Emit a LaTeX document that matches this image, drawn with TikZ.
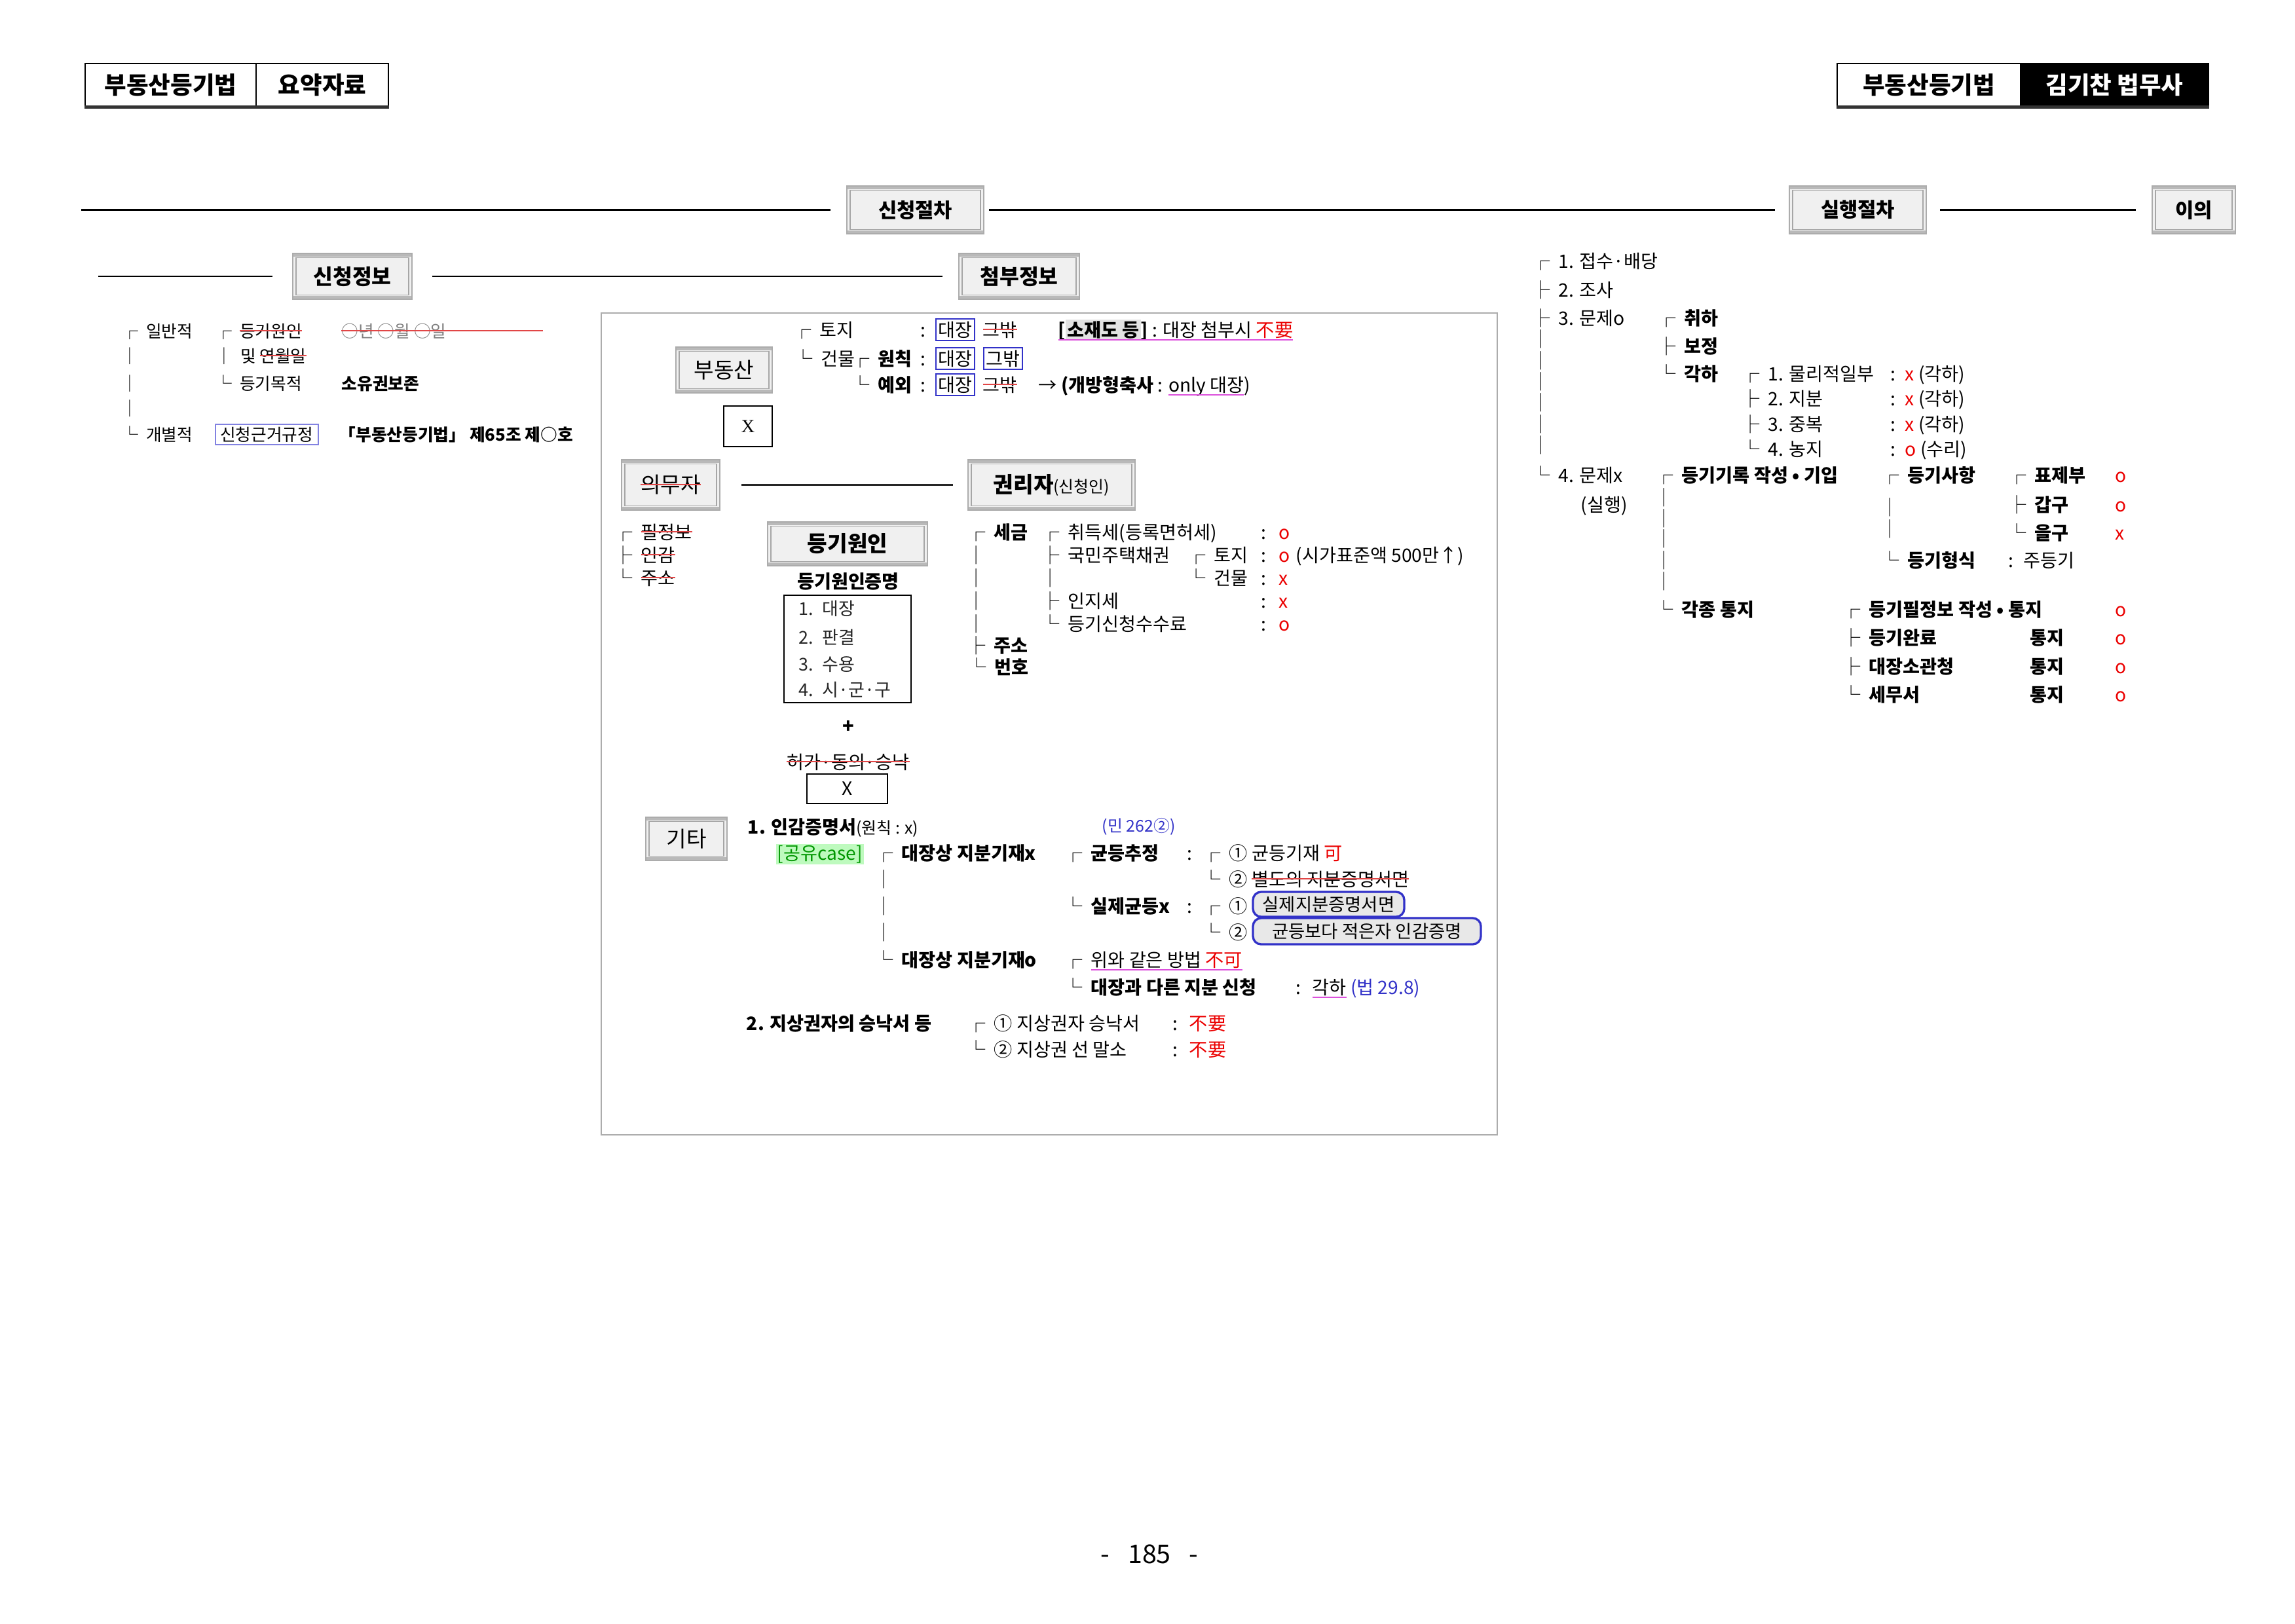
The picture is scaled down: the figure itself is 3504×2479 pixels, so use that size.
\documentclass[tikz,border=0pt]{standalone}
\usepackage{fontspec}
\setmainfont{Noto Sans CJK KR}
\newfontfamily\serifx{Liberation Serif}
\definecolor{mkred}{RGB}{235,0,0}
\definecolor{mkstrike}{RGB}{225,70,70}
\definecolor{mkpink}{RGB}{220,80,220}
\definecolor{mkblue}{RGB}{50,50,200}
\definecolor{mkblueli}{RGB}{130,130,225}
\definecolor{mkgreen}{RGB}{0,150,0}
\definecolor{mkgreenbg}{RGB}{190,250,190}
\newsavebox\mkbox
\newcommand\strk[1]{\sbox\mkbox{#1}\usebox\mkbox\llap{\color{mkstrike}\rule[0.36em]{\wd\mkbox}{0.5pt}}}
\newcommand\ulin[1]{\sbox\mkbox{#1}\usebox\mkbox\llap{\color{mkpink}\rule[-0.22em]{\wd\mkbox}{0.5pt}}}
\newcommand\bxb[1]{{\setlength\fboxsep{0.6pt}\setlength\fboxrule{0.5pt}\fcolorbox{mkblue}{white}{#1}}}
\newcommand\bxl[1]{{\setlength\fboxsep{0.6pt}\setlength\fboxrule{0.5pt}\fcolorbox{mkblueli}{white}{\hspace{0.15em}#1\hspace{0.15em}}}}
\newcommand\brtop{┌\hspace{0.45em}}
\newcommand\brmid{├\hspace{0.45em}}
\newcommand\brbot{└\hspace{0.45em}}
\newcommand\brver{│\hspace{0.45em}}
\tikzset{
  boxsz/.style 2 args={minimum width=#1*0.008476cm, minimum height=#2*0.008476cm},
  lbl/.style={anchor=base west, inner sep=0pt, font=\fontsize{6.8}{8}\selectfont},
  lblsm/.style={lbl, font=\fontsize{6.2}{7}\selectfont},
  lbllist/.style={lbl, font=\fontsize{6.5}{7.5}\selectfont, text=black!85},
  lblred/.style={lbl, text=mkred},
  lblblue/.style={lbl, text=mkblue, font=\fontsize{6}{7}\selectfont},
  hdcell/.style={draw, line width=0.6pt, inner sep=0pt, font=\fontsize{8.8}{10}\selectfont\bfseries},
  tabbox/.style={draw=gray!65, line width=0.4pt, fill=gray!12, inner sep=0pt,
    path picture={
      \fill[gray!55] (path picture bounding box.north west) rectangle ([yshift=-1.1pt]path picture bounding box.north east);
      \fill[gray!55] (path picture bounding box.south west) rectangle ([yshift=1.1pt]path picture bounding box.south east);
      \draw[gray!70, line width=0.3pt] ([xshift=1.2pt,yshift=-1.6pt]path picture bounding box.north west) rectangle ([xshift=-1.2pt,yshift=1.6pt]path picture bounding box.south east);}},
  tabtitle/.style={tabbox, font=\fontsize{7.4}{9}\selectfont\bfseries},
  tabplain/.style={tabbox, font=\fontsize{8}{9}\selectfont},
  plainbox/.style={draw, line width=0.6pt, inner sep=0pt, font=\fontsize{6.8}{8}\selectfont},
  roundbox/.style={draw=mkblue, line width=0.8pt, rounded corners=3pt, fill=gray!18, inner sep=0pt, font=\fontsize{6.6}{8}\selectfont},
  secline/.style={line width=0.5pt},
  strikeln/.style={draw=mkstrike, line width=0.5pt}
}
\begin{document}
\begin{tikzpicture}[x=0.008476cm, y=-0.008476cm]
      \fill[white] (0,0) rectangle (3504,2479);%
      \useasboundingbox (0,0) rectangle (3504,2479);%

      % headers
      \node[hdcell, boxsz={261}{65}] (hdL1) at (260.5,129.5) {부동산등기법};%
      \node[hdcell, boxsz={202}{65}] (hdL2) at (492,129.5) {요약자료};%
      \node[hdcell, boxsz={280}{65}] (hdR1) at (2945,129.5) {부동산등기법};%
      \node[hdcell, fill=black, text=white, boxsz={287}{65}] (hdR2) at (3228.5,129.5) {김기찬\ 법무사};%
      \draw[line width=1.1pt, gray!40!black] (hdL1.south west) -- (hdL2.south east);%
      \draw[line width=1.1pt, gray!40!black] (hdR1.south west) -- (hdR2.south east);%

      \node[tabtitle, boxsz={209}{73}] (sinchung) at (1397.5,320.5) {신청절차};%
      \node[tabtitle, boxsz={209}{73}] (silhaeng) at (2836.5,320.5) {실행절차};%
      \node[tabtitle, boxsz={127}{73}] (iui) at (3349.5,320.5) {이의};%
      \node[tabtitle, font=\fontsize{7.8}{9}\selectfont\bfseries, boxsz={182}{70}] (sinfo) at (538,422) {신청정보};%
      \node[tabtitle, font=\fontsize{7.8}{9}\selectfont\bfseries, boxsz={184}{70}] (attach) at (1556,422) {첨부정보};%
      \coordinate (s1a) at (124,320.5);%
      \coordinate (s2a) at (150,422);%
      \draw[secline, shorten >=5.8pt] (s1a) -- (sinchung);%
      \draw[secline, shorten <=1.7pt, shorten >=5pt] (sinchung) -- (silhaeng);%
      \draw[secline, shorten <=4.8pt, shorten >=5.8pt] (silhaeng) -- (iui);%
      \draw[secline, shorten >=7.2pt] (s2a) -- (sinfo);%
      \draw[secline, shorten <=7.2pt, shorten >=5.8pt] (sinfo) -- (attach);%

      % 신청정보
      \node[lblsm] (ilban) at (185,515) {\brtop 일반적};%
      \node[lblsm] (wonil) at (328,515) {\brtop \strk{등기원인}};%
      \node[lblsm, text=gray] (ymd) at (521,515) {○년 ○월 ○일};%
      \draw[strikeln] (ymd.west) -- ++(308,0);%
      \node[lblsm] (lv1) at (185,553) {│};%
      \node[lblsm] (mit) at (329,553) {\brver 및 \strk{연월일}};%
      \node[lblsm] (lv2) at (185,595) {│};%
      \node[lblsm] (mokjeok) at (328,595) {\brbot 등기목적};%
      \node[lblsm] (bojon) at (521,595) {\textbf{소유권보존}};%
      \node[lblsm] (lv3) at (185,633) {│};%
      \node[lblsm] (gaebyeol) at (185,673) {\brbot 개별적};%
      \node[lblsm] (geungeo) at (327,673) {\bxl{신청근거규정}};%
      \node[lblsm] (jo65) at (517,673) {\textbf{「부동산등기법」 제65조 제○호}};%

      % 첨부정보
      \node[draw=gray!65, line width=0.5pt, inner sep=0pt, boxsz={1368}{1255}] (frame) at (1602,1105.5) {};%
      \node[tabplain, boxsz={147}{70}] (budong) at (1105.5,565) {부동산};%
      \node[plainbox, boxsz={74}{62}] (budongx) at (1142,651) {\serifx X};%
      \node[lbl] (toji) at (1210,514) {\brtop 토지};%
      \node[lbl] (tojic) at (1405,514) {:};%
      \node[lbl] (tojia) at (1427,514) {\bxb{대장}};%
      \node[lbl] (tojib) at (1500,514) {\strk{그밖}};%
      \node[lbl] (sojae) at (1615,514) {\ulin{\textbf{[{\setlength\fboxsep{0.5pt}\colorbox{gray!22}{소재도 등}}]} : 대장 첨부시 \textcolor{mkred}{不要}}};%
      \node[lbl] (geonmul) at (1212,558) {\brbot 건물};%
      \node[lbl] (wonchik) at (1299,558) {\brtop \textbf{원칙}};%
      \node[lbl] (wonc) at (1405,558) {:};%
      \node[lbl] (wona) at (1427,558) {\bxb{대장}};%
      \node[lbl] (wonb) at (1500,558) {\bxb{그밖}};%
      \node[lbl] (yeoe) at (1299,598) {\brbot \textbf{예외}};%
      \node[lbl] (yeoec) at (1405,598) {:};%
      \node[lbl] (yeoea) at (1427,598) {\bxb{대장}};%
      \node[lbl] (yeoeb) at (1500,598) {\strk{그밖}};%
      \node[lbl] (chuksa) at (1585,598) {→ \textbf{(개방형축사} : \ulin{only 대장})};%

      \node[tabplain, boxsz={150}{77}] (uimu) at (1024,740.5) {\strk{의무자}};%
      \node[tabplain, boxsz={255}{77}] (gwonri) at (1605.5,740.5) {{\bfseries 권리자}{\fontsize{6}{7}\selectfont(신청인)}};%
      \draw[line width=0.5pt, gray!30!black, shorten <=7.7pt, shorten >=5.3pt] (uimu) -- (gwonri);%

      \node[lbl] (piljb) at (937,823) {\brtop \strk{필정보}};%
      \node[lbl] (ingam) at (937,858) {\brmid \strk{인감}};%
      \node[lbl] (juso1) at (937,893) {\brbot \strk{주소}};%

      \node[tabplain, font=\fontsize{8}{9}\selectfont\bfseries, boxsz={244}{67}] (wonin) at (1294,830.5) {등기원인};%
      \node[lbl, anchor=base] (wonjm) at (1295,898) {\textbf{등기원인증명}};%
      \node[plainbox, boxsz={194}{164}] (wonlist) at (1294,991) {};%
      \node[lbllist] (wl1) at (1219,939) {1.\enspace 대장};%
      \node[lbllist] (wl2) at (1219,983) {2.\enspace 판결};%
      \node[lbllist] (wl3) at (1219,1024) {3.\enspace 수용};%
      \node[lbllist] (wl4) at (1219,1063) {4.\enspace 시·군·구};%
      \node[inner sep=0pt, font=\fontsize{7}{8}\selectfont\bfseries] (plus) at (1295,1110) {+};%
      \node[lbl, anchor=base] (heoga) at (1295,1174) {\strk{허가·동의·승낙}};%
      \node[plainbox, boxsz={123}{45}] (heogax) at (1293.5,1204.5) {X};%

      \node[lbl] (segeum) at (1476,823) {\brtop \textbf{세금}};%
      \node[lbl] (chwideuk) at (1589,823) {\brtop 취득세(등록면허세)};%
      \node[lbl] (chwic) at (1925,823) {:};%
      \node[lblred] (chwiv) at (1952,823) {o};%
      \node[lbl] (sv1) at (1476,858) {│};%
      \node[lbl] (gukmin) at (1589,858) {\brmid 국민주택채권};%
      \node[lbl] (gtoji) at (1812,858) {\brtop 토지};%
      \node[lbl] (gtojic) at (1925,858) {:};%
      \node[lblred] (gtojiv) at (1952,858) {o};%
      \node[lbl] (sigga) at (1978,858) {(시가표준액 500만↑)};%
      \node[lbl] (sv2) at (1476,893) {│};%
      \node[lbl] (sv2b) at (1589,893) {│};%
      \node[lbl] (ggeon) at (1812,893) {\brbot 건물};%
      \node[lbl] (ggeonc) at (1925,893) {:};%
      \node[lblred] (ggeonv) at (1952,893) {x};%
      \node[lbl] (sv3) at (1476,928) {│};%
      \node[lbl] (inji) at (1589,928) {\brmid 인지세};%
      \node[lbl] (injic) at (1925,928) {:};%
      \node[lblred] (injiv) at (1952,928) {x};%
      \node[lbl] (sv4) at (1476,963) {│};%
      \node[lbl] (susu) at (1589,963) {\brbot 등기신청수수료};%
      \node[lbl] (susuc) at (1925,963) {:};%
      \node[lblred] (susuv) at (1952,963) {o};%
      \node[lbl] (juso2) at (1476,996) {\brmid \textbf{주소}};%
      \node[lbl] (beonho) at (1477,1029) {\brbot \textbf{번호}};%

      % 기타
      \node[tabplain, boxsz={124}{66}] (gita) at (1048,1281) {기타};%
      \node[lbl] (ingamjm) at (1141,1273) {\textbf{1. 인감증명서}{\fontsize{6}{7}\selectfont(원칙 : x)}};%
      \node[lblblue] (min262) at (1682,1270) {(민 262②)};%
      \node[lbl] (gongyu) at (1184,1313) {{\setlength\fboxsep{0.5pt}\colorbox{mkgreenbg}{\textcolor{mkgreen}{[공유case]}}}};%
      \node[lbl] (jibunx) at (1335,1313) {\brtop \textbf{대장상 지분기재x}};%
      \node[lbl] (gyundeung) at (1624,1313) {\brtop \textbf{균등추정}};%
      \node[lbl] (gyunc) at (1812,1313) {:};%
      \node[lbl] (gyun1) at (1835,1313) {\brtop ① 균등기재 \textcolor{mkred}{可}};%
      \node[lbl] (jv1) at (1335,1353) {│};%
      \node[lbl] (gyun2) at (1835,1353) {\brbot ② \strk{별도의 지분증명서면}};%
      \node[lbl] (jv2) at (1335,1394) {│};%
      \node[lbl] (silje) at (1624,1394) {\brbot \textbf{실제균등x}};%
      \node[lbl] (siljec) at (1812,1394) {:};%
      \node[lbl] (silje1) at (1835,1394) {\brtop ①};%
      \node[roundbox, boxsz={231}{38}] (siljebox) at (2028.5,1381) {실제지분증명서면};%
      \node[lbl] (jv3) at (1335,1434) {│};%
      \node[lbl] (silje2) at (1835,1434) {\brbot ②};%
      \node[roundbox, boxsz={348}{40}] (ingambox) at (2087,1422) {균등보다 적은자 인감증명};%
      \node[lbl] (jibuno) at (1335,1476) {\brbot \textbf{대장상 지분기재o}};%
      \node[lbl] (gateun) at (1624,1476) {\brtop \ulin{위와 같은 방법 \textcolor{mkred}{不可}}};%
      \node[lbl] (dareun) at (1624,1518) {\brbot \textbf{대장과 다른 지분 신청}};%
      \node[lbl] (dareunc) at (1978,1518) {:};%
      \node[lbl] (gakha) at (2003,1518) {\ulin{각하} \textcolor{mkblue}{(법 29.8)}};%

      \node[lbl] (jisang) at (1139,1573) {\textbf{2. 지상권자의 승낙서 등}};%
      \node[lbl] (jisang1) at (1476,1573) {\brtop ① 지상권자 승낙서};%
      \node[lbl] (jisang1c) at (1790,1573) {:};%
      \node[lblred] (jisang1v) at (1815,1573) {不要};%
      \node[lbl] (jisang2) at (1476,1613) {\brbot ② 지상권 선 말소};%
      \node[lbl] (jisang2c) at (1790,1613) {:};%
      \node[lblred] (jisang2v) at (1815,1613) {不要};%

      % 실행절차
      \node[lbl] (jeopsu) at (2338,409) {\brtop 1. 접수·배당};%
      \node[lbl] (josa) at (2338,453) {\brmid 2. 조사};%
      \node[lbl] (munjeo) at (2338,496) {\brmid 3. 문제o};%
      \node[lbl] (chwiha) at (2530,496) {\brtop \textbf{취하}};%
      \node[lbl] (rv1) at (2338,528) {│};%
      \node[lbl] (rv2) at (2338,561) {│};%
      \node[lbl] (rv3) at (2338,593) {│};%
      \node[lbl] (rv4) at (2338,625) {│};%
      \node[lbl] (rv5) at (2338,658) {│};%
      \node[lbl] (rv6) at (2338,690) {│};%
      \node[lbl] (bojeong) at (2530,539) {\brmid \textbf{보정}};%
      \node[lbl] (gakha1) at (2530,581) {\brbot \textbf{각하}};%
      \node[lbl] (mulli) at (2658,581) {\brtop 1. 물리적일부};%
      \node[lbl] (mullic) at (2886,581) {:};%
      \node[lbl] (mulliv) at (2908,581) {\textcolor{mkred}{x} (각하)};%
      \node[lbl] (jibun) at (2658,619) {\brmid 2. 지분};%
      \node[lbl] (jibunc) at (2886,619) {:};%
      \node[lbl] (jibunv) at (2908,619) {\textcolor{mkred}{x} (각하)};%
      \node[lbl] (jungbok) at (2658,658) {\brmid 3. 중복};%
      \node[lbl] (jungbokc) at (2886,658) {:};%
      \node[lbl] (jungbokv) at (2908,658) {\textcolor{mkred}{x} (각하)};%
      \node[lbl] (nongji) at (2658,696) {\brbot 4. 농지};%
      \node[lbl] (nongjic) at (2886,696) {:};%
      \node[lbl] (nongjiv) at (2908,696) {\textcolor{mkred}{o} (수리)};%

      \node[lbl] (munjex) at (2338,736) {\brbot 4. 문제x};%
      \node[lbl] (silhaengnote) at (2413,781) {(실행)};%
      \node[lbl] (girok) at (2526,736) {\brtop \textbf{등기기록 작성 • 기입}};%
      \node[lbl] (gv1) at (2526,770) {│};%
      \node[lbl] (gv2) at (2526,802) {│};%
      \node[lbl] (gv3) at (2526,833) {│};%
      \node[lbl] (gv4) at (2526,866) {│};%
      \node[lbl] (gv5) at (2526,898) {│};%
      \node[lbl] (sahang) at (2871,736) {\brtop \textbf{등기사항}};%
      \node[lbl] (hv1) at (2871,785) {│};%
      \node[lbl] (hv2) at (2871,818) {│};%
      \node[lbl] (pyoje) at (3065,736) {\brtop \textbf{표제부}};%
      \node[lblred] (pyojev) at (3229,736) {o};%
      \node[lbl] (gapgu) at (3065,781) {\brmid \textbf{갑구}};%
      \node[lblred] (gapguv) at (3229,781) {o};%
      \node[lbl] (eulgu) at (3065,824) {\brbot \textbf{을구}};%
      \node[lblred] (eulguv) at (3229,824) {x};%
      \node[lbl] (hyeongsik) at (2871,866) {\brbot \textbf{등기형식}};%
      \node[lbl] (hyeongc) at (3066,866) {:};%
      \node[lbl] (judeunggi) at (3089,866) {주등기};%
      \node[lbl] (tongji) at (2526,941) {\brbot \textbf{각종 통지}};%
      \node[lbl] (pil) at (2812,941) {\brtop \textbf{등기필정보 작성 • 통지}};%
      \node[lblred] (pilv) at (3229,941) {o};%
      \node[lbl] (wallyo) at (2812,984) {\brmid \textbf{등기완료}};%
      \node[lbl] (wallyot) at (3099,984) {\textbf{통지}};%
      \node[lblred] (wallyov) at (3229,984) {o};%
      \node[lbl] (daejang) at (2812,1028) {\brmid \textbf{대장소관청}};%
      \node[lbl] (daejangt) at (3099,1028) {\textbf{통지}};%
      \node[lblred] (daejangv) at (3229,1028) {o};%
      \node[lbl] (semuseo) at (2812,1071) {\brbot \textbf{세무서}};%
      \node[lbl] (semuseot) at (3099,1071) {\textbf{통지}};%
      \node[lblred] (semuseov) at (3229,1071) {o};%

      \node[font=\fontsize{9.5}{11}\selectfont, inner sep=0pt] (pageno) at (1755,2373) {-\hspace{0.7em}185\hspace{0.7em}-};%
\end{tikzpicture}
\end{document}
